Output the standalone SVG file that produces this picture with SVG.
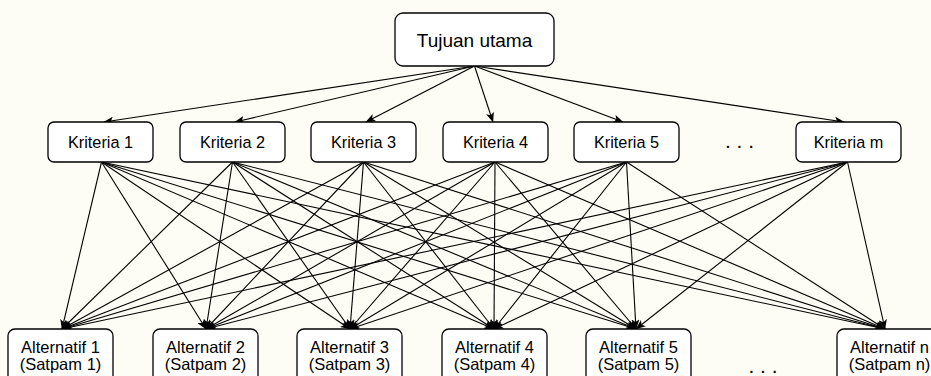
<svg xmlns="http://www.w3.org/2000/svg" width="931" height="376" viewBox="0 0 931 376">
<style>
.bg{fill:#fdfdf5}
.box{fill:#ffffff;stroke:#000;stroke-width:1.3}
.t{font-family:"Liberation Sans",Arial,sans-serif;fill:#000;text-anchor:middle}
.e{stroke:#000;stroke-width:1.1;fill:none;marker-end:url(#arr)}
</style>
<defs>
<marker id="arr" viewBox="0 0 10 8" refX="9.5" refY="4" markerWidth="10" markerHeight="8" markerUnits="userSpaceOnUse" orient="auto">
<path d="M0,0 L10,4 L0,8 L2.5,4 z" fill="#000"/>
</marker>
</defs>
<rect class="bg" x="0" y="0" width="931" height="376"/>
<g id="connectors">
<line class="e" x1="474.5" y1="66" x2="104" y2="122"/>
<line class="e" x1="474.5" y1="66" x2="235" y2="122"/>
<line class="e" x1="474.5" y1="66" x2="366" y2="122"/>
<line class="e" x1="474.5" y1="66" x2="493" y2="122"/>
<line class="e" x1="474.5" y1="66" x2="623" y2="122"/>
<line class="e" x1="474.5" y1="66" x2="844" y2="122"/>
<line class="e" x1="101.5" y1="162" x2="62" y2="329"/>
<line class="e" x1="101.5" y1="162" x2="206" y2="329"/>
<line class="e" x1="101.5" y1="162" x2="350" y2="329"/>
<line class="e" x1="101.5" y1="162" x2="494" y2="329"/>
<line class="e" x1="101.5" y1="162" x2="636" y2="329"/>
<line class="e" x1="101.5" y1="162" x2="885" y2="329"/>
<line class="e" x1="232.5" y1="162" x2="62" y2="329"/>
<line class="e" x1="232.5" y1="162" x2="206" y2="329"/>
<line class="e" x1="232.5" y1="162" x2="350" y2="329"/>
<line class="e" x1="232.5" y1="162" x2="494" y2="329"/>
<line class="e" x1="232.5" y1="162" x2="636" y2="329"/>
<line class="e" x1="232.5" y1="162" x2="885" y2="329"/>
<line class="e" x1="363.5" y1="162" x2="62" y2="329"/>
<line class="e" x1="363.5" y1="162" x2="206" y2="329"/>
<line class="e" x1="363.5" y1="162" x2="350" y2="329"/>
<line class="e" x1="363.5" y1="162" x2="494" y2="329"/>
<line class="e" x1="363.5" y1="162" x2="636" y2="329"/>
<line class="e" x1="363.5" y1="162" x2="885" y2="329"/>
<line class="e" x1="495" y1="162" x2="62" y2="329"/>
<line class="e" x1="495" y1="162" x2="206" y2="329"/>
<line class="e" x1="495" y1="162" x2="350" y2="329"/>
<line class="e" x1="495" y1="162" x2="494" y2="329"/>
<line class="e" x1="495" y1="162" x2="636" y2="329"/>
<line class="e" x1="495" y1="162" x2="885" y2="329"/>
<line class="e" x1="626.5" y1="162" x2="62" y2="329"/>
<line class="e" x1="626.5" y1="162" x2="206" y2="329"/>
<line class="e" x1="626.5" y1="162" x2="350" y2="329"/>
<line class="e" x1="626.5" y1="162" x2="494" y2="329"/>
<line class="e" x1="626.5" y1="162" x2="636" y2="329"/>
<line class="e" x1="626.5" y1="162" x2="885" y2="329"/>
<line class="e" x1="847.5" y1="162" x2="62" y2="329"/>
<line class="e" x1="847.5" y1="162" x2="206" y2="329"/>
<line class="e" x1="847.5" y1="162" x2="350" y2="329"/>
<line class="e" x1="847.5" y1="162" x2="494" y2="329"/>
<line class="e" x1="847.5" y1="162" x2="636" y2="329"/>
<line class="e" x1="847.5" y1="162" x2="885" y2="329"/>
</g>
<g id="goal">
<rect class="box" x="395" y="13" width="159" height="53" rx="8"/>
<text class="t" x="474.5" y="46.5" font-size="19">Tujuan utama</text>
</g>
<g id="k1"><rect class="box" x="48" y="122" width="105" height="40" rx="6"/><text class="t" x="100.5" y="147.5" font-size="16.3">Kriteria 1</text></g>
<g id="k2"><rect class="box" x="180" y="122" width="105" height="40" rx="6"/><text class="t" x="232.5" y="147.5" font-size="16.3">Kriteria 2</text></g>
<g id="k3"><rect class="box" x="311" y="122" width="105" height="40" rx="6"/><text class="t" x="363.5" y="147.5" font-size="16.3">Kriteria 3</text></g>
<g id="k4"><rect class="box" x="443" y="122" width="105" height="40" rx="6"/><text class="t" x="495.5" y="147.5" font-size="16.3">Kriteria 4</text></g>
<g id="k5"><rect class="box" x="574" y="122" width="105" height="40" rx="6"/><text class="t" x="626.5" y="147.5" font-size="16.3">Kriteria 5</text></g>
<g id="kdots"><text class="t" x="739.5" y="147.5" font-size="21">. . .</text></g>
<g id="km"><rect class="box" x="796" y="122" width="105" height="40" rx="6"/><text class="t" x="848.5" y="147.5" font-size="16.3">Kriteria m</text></g>
<g id="a1"><rect class="box" x="8" y="329" width="105" height="60" rx="7"/><text class="t" x="60.5" y="353" font-size="16.5">Alternatif 1</text><text class="t" x="60.5" y="369.5" font-size="16.5">(Satpam 1)</text></g>
<g id="a2"><rect class="box" x="153" y="329" width="105" height="60" rx="7"/><text class="t" x="205.5" y="353" font-size="16.5">Alternatif 2</text><text class="t" x="205.5" y="369.5" font-size="16.5">(Satpam 2)</text></g>
<g id="a3"><rect class="box" x="297" y="329" width="105" height="60" rx="7"/><text class="t" x="349.5" y="353" font-size="16.5">Alternatif 3</text><text class="t" x="349.5" y="369.5" font-size="16.5">(Satpam 3)</text></g>
<g id="a4"><rect class="box" x="442" y="329" width="105" height="60" rx="7"/><text class="t" x="494.5" y="353" font-size="16.5">Alternatif 4</text><text class="t" x="494.5" y="369.5" font-size="16.5">(Satpam 4)</text></g>
<g id="a5"><rect class="box" x="586" y="329" width="105" height="60" rx="7"/><text class="t" x="638.5" y="353" font-size="16.5">Alternatif 5</text><text class="t" x="638.5" y="369.5" font-size="16.5">(Satpam 5)</text></g>
<g id="adots"><text class="t" x="763" y="372.5" font-size="21">. . .</text></g>
<g id="an"><rect class="box" x="837" y="329" width="105" height="60" rx="7"/><text class="t" x="889.5" y="353" font-size="16.5">Alternatif n</text><text class="t" x="889.5" y="369.5" font-size="16.5">(Satpam n)</text></g>
</svg>
